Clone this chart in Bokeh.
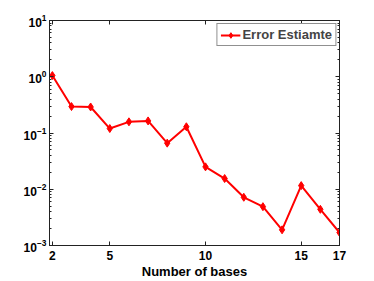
from bokeh.plotting import figure
from bokeh.models import FixedTicker, LogTicker, LinearAxis, LogAxis, Range1d, LogTickFormatter
from bokeh.embed import file_html
from bokeh.resources import INLINE

num_bases = [2, 3, 4, 5, 6, 7, 8, 9, 10, 11, 12, 13, 14, 15, 16, 17]
error_estimate = [1.05, 0.295, 0.29, 0.12, 0.158, 0.164, 0.066, 0.129,
                  0.025, 0.0155, 0.0072, 0.0049, 0.0019, 0.0116, 0.0044, 0.0017]
x_ticks = [2, 5, 10, 15, 17]
y_ticks = [1e-3, 1e-2, 1e-1, 1e0, 1e1]

FONT = "Liberation Sans"
AX = "#222222"

p = figure(width=374, height=281, y_axis_type="log",
           x_range=Range1d(1.85, 17), y_range=Range1d(1e-3, 10),
           output_backend="svg", toolbar_location=None,
           min_border_left=49, min_border_top=20, min_border_right=35,
           min_border_bottom=33)
p.grid.visible = False
p.outline_line_color = AX
p.background_fill_color = "white"
p.border_fill_color = "white"

p.line(num_bases, error_estimate, color="red", line_width=2, legend_label="Error Estiamte")
p.scatter(num_bases, error_estimate, marker="diamond", size=8, color="red",
          fill_color="red", line_width=1, legend_label="Error Estiamte")

def style(ax, labels=True):
    ax.axis_line_color = AX
    ax.major_tick_line_color = AX
    ax.minor_tick_line_color = AX
    ax.major_tick_in = 4
    ax.major_tick_out = 0
    ax.minor_tick_in = 2
    ax.minor_tick_out = 0
    ax.major_label_text_font = FONT
    ax.major_label_text_font_style = "bold"
    ax.major_label_text_color = "black"
    if labels:
        ax.major_label_text_font_size = "12px"
    else:
        ax.major_label_text_font_size = "1px"
        ax.major_label_text_alpha = 0
        ax.major_label_standoff = 0

xa = p.xaxis[0]
xa.ticker = FixedTicker(ticks=x_ticks)
style(xa)
xa.major_label_standoff = 5
xa.axis_label = "Number of bases"
xa.axis_label_text_font = FONT
xa.axis_label_text_font_style = "bold"
xa.axis_label_text_font_size = "13px"
xa.axis_label_standoff = 1
xa.axis_label_text_color = "black"

ya = p.yaxis[0]
ya.ticker = LogTicker(num_minor_ticks=10, desired_num_ticks=5)
ya.formatter = LogTickFormatter()
style(ya)
ya.major_label_text_font_size = "12px"
ya.major_label_standoff = 3

top = LinearAxis(ticker=FixedTicker(ticks=x_ticks))
style(top, labels=False)
p.add_layout(top, "above")

right = LogAxis(ticker=LogTicker(num_minor_ticks=10, desired_num_ticks=5))
style(right, labels=False)
p.add_layout(right, "right")

lg = p.legend[0]
lg.location = "top_right"
lg.margin = 3
lg.padding = 3
lg.spacing = 0
lg.label_standoff = 2
lg.glyph_width = 20
lg.glyph_height = 14
lg.label_height = 14
lg.label_text_font = FONT
lg.label_text_font_style = "bold"
lg.label_text_font_size = "13px"
lg.border_line_color = AX
lg.border_line_width = 1
lg.background_fill_alpha = 1

open("out.html", "w").write(file_html(p, INLINE))
